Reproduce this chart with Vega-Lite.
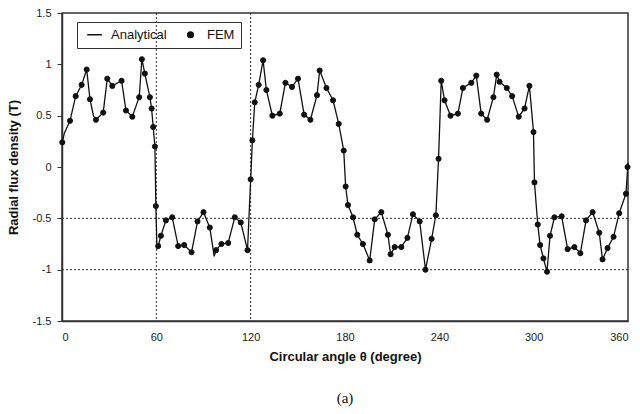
{
  "$schema": "https://vega.github.io/schema/vega-lite/v6.json",
  "autosize": {"type": "none"},
  "width": 566,
  "height": 308,
  "padding": {"left": 62, "top": 13, "right": 12, "bottom": 93},
  "background": "white",
  "config": {
    "locale": {"number": {"decimal": ".", "thousands": ",", "grouping": [3], "currency": ["$", ""], "minus": "-"}},
    "view": {"stroke": "#333", "strokeWidth": 1.5},
    "font": "Liberation Sans",
    "axis": {"labelFont": "Liberation Sans", "titleFont": "Liberation Sans", "labelColor": "#222", "titleColor": "#111", "grid": false, "domainColor": "#333", "tickColor": "#333"},
    "legend": {"symbolSize": 32}
  },
  "title": {"text": "(a)", "orient": "bottom", "font": "Liberation Serif", "fontSize": 15, "fontWeight": "normal", "color": "#111", "offset": 28},
  "datasets": {
    "fem": [
      {"angle": 0.2, "b": 0.24}, {"angle": 5.1, "b": 0.45}, {"angle": 8.7, "b": 0.69}, {"angle": 12.5, "b": 0.80},
      {"angle": 15.7, "b": 0.95}, {"angle": 17.8, "b": 0.66}, {"angle": 21.6, "b": 0.46}, {"angle": 26.2, "b": 0.53},
      {"angle": 28.8, "b": 0.86}, {"angle": 32, "b": 0.79}, {"angle": 37.9, "b": 0.84}, {"angle": 40.7, "b": 0.55},
      {"angle": 44.7, "b": 0.49}, {"angle": 49.1, "b": 0.68}, {"angle": 50.8, "b": 1.05}, {"angle": 52.7, "b": 0.91},
      {"angle": 55.9, "b": 0.68}, {"angle": 57, "b": 0.57}, {"angle": 58, "b": 0.39}, {"angle": 59.1, "b": 0.20},
      {"angle": 59.7, "b": -0.38}, {"angle": 61.2, "b": -0.77}, {"angle": 62.9, "b": -0.67}, {"angle": 66.1, "b": -0.52},
      {"angle": 70.1, "b": -0.49}, {"angle": 73.9, "b": -0.77}, {"angle": 77.7, "b": -0.76}, {"angle": 82.4, "b": -0.83},
      {"angle": 86.2, "b": -0.53}, {"angle": 90, "b": -0.44}, {"angle": 94, "b": -0.59}, {"angle": 98, "b": -0.81},
      {"angle": 101.4, "b": -0.75}, {"angle": 105.7, "b": -0.74}, {"angle": 109.9, "b": -0.49}, {"angle": 113.7, "b": -0.54},
      {"angle": 118, "b": -0.81}, {"angle": 120, "b": -0.12}, {"angle": 121.1, "b": 0.26}, {"angle": 122.6, "b": 0.63},
      {"angle": 125.1, "b": 0.80}, {"angle": 127.9, "b": 1.04}, {"angle": 130, "b": 0.75}, {"angle": 133.8, "b": 0.50},
      {"angle": 138.5, "b": 0.52}, {"angle": 142.1, "b": 0.82}, {"angle": 146.3, "b": 0.78}, {"angle": 150.1, "b": 0.86},
      {"angle": 154, "b": 0.51}, {"angle": 158, "b": 0.46}, {"angle": 162.2, "b": 0.70}, {"angle": 163.9, "b": 0.94},
      {"angle": 168.2, "b": 0.77}, {"angle": 172.4, "b": 0.65}, {"angle": 176, "b": 0.42}, {"angle": 179.2, "b": 0.16},
      {"angle": 180.4, "b": -0.19}, {"angle": 181.9, "b": -0.37}, {"angle": 185.1, "b": -0.49}, {"angle": 187.8, "b": -0.66},
      {"angle": 191.4, "b": -0.75}, {"angle": 195.7, "b": -0.91}, {"angle": 198.9, "b": -0.51}, {"angle": 203.1, "b": -0.44},
      {"angle": 207.3, "b": -0.66}, {"angle": 209, "b": -0.85}, {"angle": 211.6, "b": -0.78}, {"angle": 215.8, "b": -0.78},
      {"angle": 219.7, "b": -0.69}, {"angle": 223.2, "b": -0.46}, {"angle": 227.5, "b": -0.53}, {"angle": 231.2, "b": -1.00},
      {"angle": 235.1, "b": -0.70}, {"angle": 237.8, "b": -0.47}, {"angle": 239.5, "b": 0.08}, {"angle": 241.2, "b": 0.84},
      {"angle": 243.3, "b": 0.65}, {"angle": 247.1, "b": 0.50}, {"angle": 251.8, "b": 0.52}, {"angle": 255, "b": 0.77},
      {"angle": 260.3, "b": 0.82}, {"angle": 263.5, "b": 0.89}, {"angle": 266.6, "b": 0.52}, {"angle": 270.4, "b": 0.46},
      {"angle": 274.4, "b": 0.68}, {"angle": 276.5, "b": 0.90}, {"angle": 278.3, "b": 0.83}, {"angle": 282.9, "b": 0.77},
      {"angle": 286.3, "b": 0.69}, {"angle": 290.5, "b": 0.49}, {"angle": 294.2, "b": 0.57}, {"angle": 297.3, "b": 0.79},
      {"angle": 299.9, "b": 0.34}, {"angle": 300.5, "b": -0.15}, {"angle": 302.6, "b": -0.56}, {"angle": 304.1, "b": -0.76},
      {"angle": 306.2, "b": -0.89}, {"angle": 308.5, "b": -1.02}, {"angle": 310.4, "b": -0.67}, {"angle": 313.2, "b": -0.49},
      {"angle": 317.8, "b": -0.48}, {"angle": 321.6, "b": -0.80}, {"angle": 325.9, "b": -0.78}, {"angle": 329.7, "b": -0.84},
      {"angle": 333.3, "b": -0.52}, {"angle": 337.5, "b": -0.44}, {"angle": 341.7, "b": -0.64}, {"angle": 343.8, "b": -0.90},
      {"angle": 347, "b": -0.79}, {"angle": 350.8, "b": -0.68}, {"angle": 354.4, "b": -0.45}, {"angle": 358.7, "b": -0.26},
      {"angle": 359.7, "b": 0.0}
    ],
    "analytical": [
      {"angle": 0, "b": 0.23}, {"angle": 1.5, "b": 0.33}, {"angle": 5.1, "b": 0.45}, {"angle": 8.7, "b": 0.69}, {"angle": 12.5, "b": 0.80},
      {"angle": 15.7, "b": 0.95}, {"angle": 17.8, "b": 0.66}, {"angle": 20, "b": 0.50}, {"angle": 21.6, "b": 0.46}, {"angle": 26.2, "b": 0.53},
      {"angle": 28.8, "b": 0.86}, {"angle": 32, "b": 0.79}, {"angle": 37.9, "b": 0.84}, {"angle": 40.7, "b": 0.55},
      {"angle": 44.7, "b": 0.49}, {"angle": 49.1, "b": 0.68}, {"angle": 50.8, "b": 1.05}, {"angle": 52.7, "b": 0.91},
      {"angle": 55.9, "b": 0.68}, {"angle": 57, "b": 0.57}, {"angle": 58, "b": 0.39}, {"angle": 59.1, "b": 0.20},
      {"angle": 59.7, "b": -0.38}, {"angle": 60.4, "b": -0.80}, {"angle": 61.2, "b": -0.77}, {"angle": 62.9, "b": -0.67}, {"angle": 66.1, "b": -0.52},
      {"angle": 70.1, "b": -0.49}, {"angle": 73.9, "b": -0.77}, {"angle": 77.7, "b": -0.76}, {"angle": 82.4, "b": -0.83},
      {"angle": 86.2, "b": -0.53}, {"angle": 90, "b": -0.44}, {"angle": 94, "b": -0.59}, {"angle": 96.8, "b": -0.87}, {"angle": 98, "b": -0.81},
      {"angle": 101.4, "b": -0.75}, {"angle": 105.7, "b": -0.74}, {"angle": 109.9, "b": -0.49}, {"angle": 113.7, "b": -0.54},
      {"angle": 118, "b": -0.81}, {"angle": 120, "b": -0.12}, {"angle": 121.1, "b": 0.26}, {"angle": 122.6, "b": 0.63},
      {"angle": 125.1, "b": 0.80}, {"angle": 127.9, "b": 1.04}, {"angle": 130, "b": 0.75}, {"angle": 133.8, "b": 0.50},
      {"angle": 138.5, "b": 0.52}, {"angle": 142.1, "b": 0.82}, {"angle": 146.3, "b": 0.78}, {"angle": 150.1, "b": 0.86},
      {"angle": 154, "b": 0.51}, {"angle": 158, "b": 0.46}, {"angle": 162.2, "b": 0.70}, {"angle": 163.9, "b": 0.94},
      {"angle": 168.2, "b": 0.77}, {"angle": 172.4, "b": 0.65}, {"angle": 176, "b": 0.42}, {"angle": 179.2, "b": 0.16},
      {"angle": 180.4, "b": -0.19}, {"angle": 181.9, "b": -0.37}, {"angle": 185.1, "b": -0.49}, {"angle": 187.8, "b": -0.66},
      {"angle": 191.4, "b": -0.75}, {"angle": 195.7, "b": -0.91}, {"angle": 198.9, "b": -0.51}, {"angle": 203.1, "b": -0.44},
      {"angle": 207.3, "b": -0.66}, {"angle": 209, "b": -0.85}, {"angle": 211.6, "b": -0.78}, {"angle": 215.8, "b": -0.78},
      {"angle": 219.7, "b": -0.69}, {"angle": 223.2, "b": -0.46}, {"angle": 227.5, "b": -0.53}, {"angle": 231.2, "b": -1.00},
      {"angle": 235.1, "b": -0.70}, {"angle": 237.8, "b": -0.47}, {"angle": 239.5, "b": 0.08}, {"angle": 241.2, "b": 0.84},
      {"angle": 243.3, "b": 0.65}, {"angle": 247.1, "b": 0.50}, {"angle": 251.8, "b": 0.52}, {"angle": 255, "b": 0.77},
      {"angle": 260.3, "b": 0.82}, {"angle": 263.5, "b": 0.89}, {"angle": 266.6, "b": 0.52}, {"angle": 270.4, "b": 0.46},
      {"angle": 274.4, "b": 0.68}, {"angle": 276.5, "b": 0.90}, {"angle": 278.3, "b": 0.83}, {"angle": 282.9, "b": 0.77},
      {"angle": 286.3, "b": 0.69}, {"angle": 290.5, "b": 0.49}, {"angle": 294.2, "b": 0.57}, {"angle": 297.3, "b": 0.79},
      {"angle": 299.9, "b": 0.34}, {"angle": 300.5, "b": -0.15}, {"angle": 302.6, "b": -0.56}, {"angle": 304.1, "b": -0.76},
      {"angle": 306.2, "b": -0.89}, {"angle": 308.5, "b": -1.02}, {"angle": 310.4, "b": -0.67}, {"angle": 313.2, "b": -0.49},
      {"angle": 317.8, "b": -0.48}, {"angle": 321.6, "b": -0.80}, {"angle": 325.9, "b": -0.78}, {"angle": 329.7, "b": -0.84},
      {"angle": 333.3, "b": -0.52}, {"angle": 337.5, "b": -0.44}, {"angle": 341.7, "b": -0.64}, {"angle": 343.8, "b": -0.90},
      {"angle": 347, "b": -0.79}, {"angle": 350.8, "b": -0.68}, {"angle": 354.4, "b": -0.45}, {"angle": 358.7, "b": -0.26},
      {"angle": 360, "b": 0.04}
    ],
    "hrefs": [{"b": -0.5}, {"b": -1}],
    "vrefs": [{"angle": 60}, {"angle": 120}]
  },
  "layer": [
    {
      "data": {"name": "hrefs"},
      "mark": {"type": "rule", "color": "#333", "strokeDash": [2, 2], "strokeWidth": 1},
      "encoding": {"y": {"field": "b", "type": "quantitative", "scale": {"domain": [-1.5, 1.5]}}}
    },
    {
      "data": {"name": "vrefs"},
      "mark": {"type": "rule", "color": "#333", "strokeDash": [2, 2], "strokeWidth": 1},
      "encoding": {"x": {"field": "angle", "type": "quantitative", "scale": {"domain": [0, 360]}}}
    },
    {
      "data": {"name": "analytical"},
      "mark": {"type": "line", "color": "#111", "strokeWidth": 1.3},
      "encoding": {
        "x": {"field": "angle", "type": "quantitative", "scale": {"domain": [0, 360], "nice": false},
          "axis": {"values": [0, 60, 120, 180, 240, 300, 360], "ticks": false, "labelFontSize": 11, "labelPadding": 10,
            "title": "Circular angle θ (degree)", "titleFontSize": 13, "titleFontWeight": "bold", "titlePadding": 8, "domainWidth": 1.5}},
        "y": {"field": "b", "type": "quantitative", "scale": {"domain": [-1.5, 1.5], "nice": false},
          "axis": {"values": [-1.5, -1, -0.5, 0, 0.5, 1, 1.5], "format": "~g", "tickSize": 5, "labelFontSize": 11, "labelPadding": 6,
            "title": "Radial flux density (T)", "titleFontSize": 13, "titleFontWeight": "bold", "titlePadding": 12, "domainWidth": 1.5}}
      }
    },
    {
      "data": {"name": "fem"},
      "transform": [{"calculate": "'FEM'", "as": "series"}],
      "mark": {"type": "point", "filled": false, "fill": "#111", "stroke": "#111", "strokeWidth": 1, "opacity": 1, "fillOpacity": 1, "strokeOpacity": 1, "size": 26},
      "encoding": {
        "x": {"field": "angle", "type": "quantitative"},
        "y": {"field": "b", "type": "quantitative"},
        "shape": {"field": "series", "type": "nominal", "scale": {"domain": ["Analytical", "FEM"], "range": ["M-2.6,0L2.6,0", "circle"]},
          "legend": {"title": null, "orient": "none", "legendX": 15, "legendY": 9, "direction": "horizontal",
            "labelFontSize": 13, "labelFont": "Liberation Sans", "labelColor": "#111", "columnPadding": 12, "symbolOffset": 5,
            "strokeColor": "#333", "padding": 6, "labelOffset": 10,
            "encode": {"symbols": {"update": {"stroke": {"value": "#111"}, "strokeWidth": {"value": 1.2}}}}}}
      }
    }
  ]
}
